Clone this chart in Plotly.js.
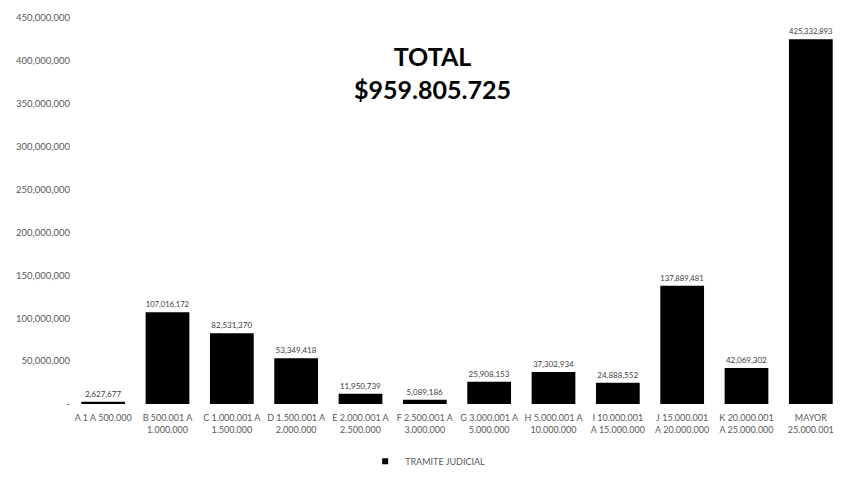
<!DOCTYPE html>
<html>
<head>
<meta charset="utf-8">
<script src="https://cdn.plot.ly/plotly-3.0.1.min.js"></script>
<style>html,body{margin:0;padding:0;background:#fff;}#chart{width:845px;height:480px;}</style>
</head>
<body>
<div id="chart"></div>
<script>
const categories = [
  "A 1 A 500.000",
  "B 500.001 A<br>1.000.000",
  "C 1.000.001 A<br>1.500.000",
  "D 1.500.001 A<br>2.000.000",
  "E 2.000.001 A<br>2.500.000",
  "F 2.500.001 A<br>3.000.000",
  "G 3.000.001 A<br>5.000.000",
  "H 5.000.001 A<br>10.000.000",
  "I 10.000.001<br>A 15.000.000",
  "J 15.000.001<br>A 20.000.000",
  "K 20.000.001<br>A 25.000.000",
  "MAYOR<br>25.000.001"
];
const values = [2627677, 107016172, 82531370, 53349418, 11950739, 5089186, 25908153, 37302934, 24888552, 137889481, 42069302, 425332893];
const seriesName = "TRAMITE JUDICIAL";
const yTickVals = [0, 50000000, 100000000, 150000000, 200000000, 250000000, 300000000, 350000000, 400000000, 450000000];
const yTickText = ["-", "50,000,000", "100,000,000", "150,000,000", "200,000,000", "250,000,000", "300,000,000", "350,000,000", "400,000,000", "450,000,000"];
const totalText = "TOTAL<br>$959.805.725";

const barTrace = {
  type: "bar",
  x: categories,
  y: values,
  name: seriesName,
  marker: {color: "#000000"},
  texttemplate: "%{y:,}",
  textposition: "outside",
  textfont: {size: 8, color: "#404040", family: "Lato, Arial, sans-serif"},
  cliponaxis: false,
  showlegend: false
};
// legend-only entry with a small square symbol
const legendTrace = {
  type: "scatter", mode: "markers",
  x: [null], y: [null],
  name: seriesName,
  marker: {symbol: "square", size: 6, color: "#000000"},
  showlegend: true, hoverinfo: "skip"
};

const layout = {
  width: 845, height: 480,
  margin: {l: 71, r: 2, t: 18, b: 76},
  paper_bgcolor: "#ffffff",
  plot_bgcolor: "#ffffff",
  font: {family: "Lato, Arial, sans-serif", color: "#595959"},
  bargap: 0.32,
  xaxis: {
    type: "category",
    tickfont: {size: 9, color: "#595959"},
    ticklabelstandoff: 7,
    showgrid: false, zeroline: false, showline: false, ticks: ""
  },
  yaxis: {
    range: [0, 450000000],
    tickvals: yTickVals,
    ticktext: yTickText,
    tickfont: {size: 9.5, color: "#595959"},
    showgrid: false, zeroline: false, showline: false, ticks: ""
  },
  showlegend: true,
  legend: {
    orientation: "h", x: 0.462, xanchor: "center", y: -0.148, yanchor: "middle",
    itemwidth: 30,
    font: {size: 9, color: "#595959"}
  },
  annotations: [{
    text: "<b>" + totalText + "</b>",
    xref: "paper", yref: "paper",
    x: 0.468, y: 0.86, xanchor: "center", yanchor: "middle",
    showarrow: false,
    font: {size: 25, color: "#000000", family: "Lato, Arial, sans-serif"}
  }]
};

Plotly.newPlot("chart", [barTrace, legendTrace], layout, {displayModeBar: false, staticPlot: true});
</script>
</body>
</html>
